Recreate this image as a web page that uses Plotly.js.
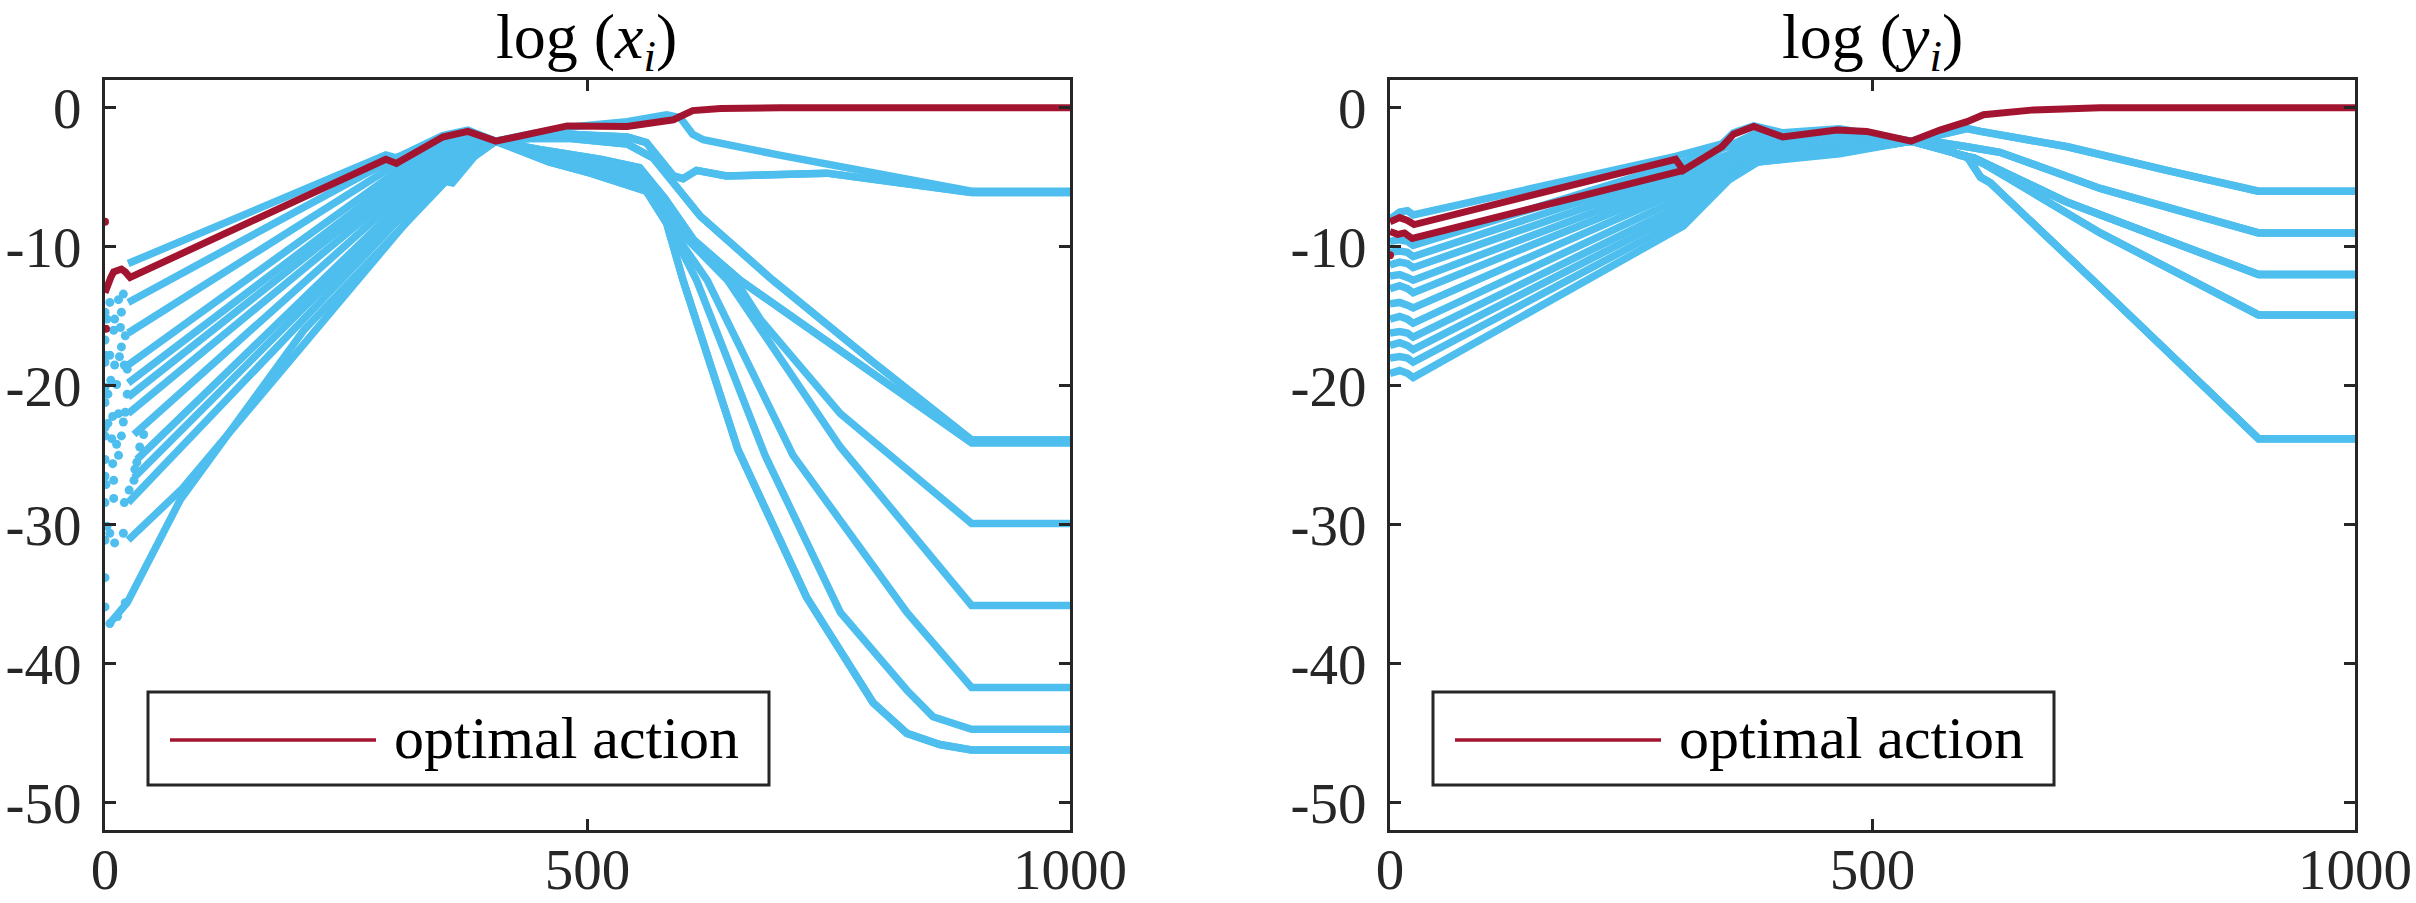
<!DOCTYPE html>
<html>
<head>
<meta charset="utf-8">
<script src="https://cdn.plot.ly/plotly-3.0.1.min.js"></script>
<style>
html, body { margin: 0; padding: 0; background: #fff; }
#plot { width: 2416px; height: 903px; }
</style>
</head>
<body>
<div id="plot"></div>
<script>
// ---------- left panel: log(x_i) ----------
// fan lines, from their start near t=24 up to the crossing near t=383
var fanL1x = [24, 291, 302, 350, 376];            var fanL1y = [-11.2, -3.4, -3.6, -2.0, -1.6];
var fanL2x = [24, 298, 350, 378];                 var fanL2y = [-14.0, -3.7, -2.3, -1.9];
var fanL3x = [24, 305, 350, 380];                 var fanL3y = [-16.2, -3.9, -2.7, -2.1];
var fanL4x = [24, 312, 352, 381];                 var fanL4y = [-18.5, -4.1, -3.0, -2.3];
var fanL5x = [24, 318, 352, 382];                 var fanL5y = [-19.8, -4.3, -3.3, -2.5];
var fanL6x = [24, 323, 353, 382];                 var fanL6y = [-20.8, -4.4, -3.6, -2.6];
var fanL7x = [24, 328, 353, 383];                 var fanL7y = [-22.0, -4.6, -3.9, -2.8];
var fanL8x = [30, 333, 354, 383];                 var fanL8y = [-23.5, -4.7, -4.2, -3.0];
var fanL9x = [33, 337, 355, 383];                 var fanL9y = [-25.3, -4.9, -4.5, -3.1];
var fanL10x = [30, 341, 356, 383];                var fanL10y = [-26.6, -5.0, -4.8, -3.2];
var fanL11x = [24, 345, 357, 383];                var fanL11y = [-28.4, -5.1, -5.1, -3.3];
var fanL12x = [24, 80, 349, 358, 383];            var fanL12y = [-31.1, -27.4, -5.2, -5.3, -3.4];
var fanL13x = [6, 23, 78, 206, 353, 360, 383];    var fanL13y = [-37.0, -35.6, -28.2, -16.0, -5.3, -5.4, -3.5];

// tails after the crossing at t=405
var tailBx = [405, 440, 480, 541, 582, 596, 609, 620, 699, 898, 1000];
var tailBy = [-2.4, -1.9, -1.4, -1.0, -0.5, -0.7, -1.9, -2.3, -3.4, -6.0, -6.0];
var tailCx = [405, 440, 480, 541, 561, 589, 599, 613, 644, 748, 898, 1000];
var tailCy = [-2.4, -2.0, -1.9, -2.1, -2.5, -4.9, -5.1, -4.5, -4.9, -4.7, -6.1, -6.1];
var tailDx = [405, 440, 480, 541, 568, 596, 617, 692, 796, 898, 1000];
var tailDy = [-2.4, -2.2, -2.2, -2.6, -3.6, -6.0, -7.8, -12.4, -18.3, -23.9, -23.9];
var tailEx = [405, 450, 513, 554, 580, 610, 658, 762, 898, 1000];
var tailEy = [-2.4, -3.0, -3.7, -4.3, -6.5, -9.5, -12.4, -17.4, -24.1, -24.1];
var tailFx = [405, 460, 503, 556, 585, 620, 655, 680, 762, 898, 1000];
var tailFy = [-2.4, -3.3, -4.0, -4.6, -7.5, -10.5, -12.6, -15.3, -22.0, -29.9, -29.9];
var tailGx = [405, 460, 503, 561, 590, 645, 762, 898, 1000];
var tailGy = [-2.4, -3.5, -4.3, -5.2, -8.5, -12.4, -24.4, -35.8, -35.8];
var tailHx = [405, 460, 503, 561, 590, 624, 713, 831, 898, 1000];
var tailHy = [-2.4, -3.7, -4.5, -5.6, -9.0, -12.4, -25.0, -36.3, -41.7, -41.7];
var tailIx = [405, 460, 503, 561, 588, 613, 684, 762, 831, 858, 898, 1000];
var tailIy = [-2.4, -3.8, -4.6, -5.8, -9.0, -12.4, -25.0, -36.3, -41.9, -43.8, -44.7, -44.7];
var tailJx = [405, 460, 503, 561, 582, 599, 656, 727, 796, 831, 865, 898, 1000];
var tailJy = [-2.4, -3.9, -4.7, -6.0, -8.3, -12.4, -24.6, -35.2, -42.8, -45.0, -45.8, -46.2, -46.2];

var leftTailOf = ['B', 'C', 'D', 'E', 'D', 'E', 'F', 'G', 'H', 'I', 'J', 'C', 'J'];

// scattered early samples
var dotsLx = [0, 2, 5, 10, 14, 17, 19, 0, 9, 16, 17, 21, 0, 5, 10, 15, 20, 23, 0, 6, 12, 23,
              3, 0, 8, 14, 19, 21, 0, 7, 12, 17, 36, 40, 0, 8, 14, 33, 0, 1, 9, 31, 30,
              9, 0, 20, 25, 2, 5, 0, 10, 19, 0, 0, 5, 13, 21, 0, 3, 0];
var dotsLy = [-14.7, -15.2, -14.0, -15.2, -13.8, -14.7, -13.4, -16.7, -16.0, -15.8, -17.2, -16.4,
              -17.8, -17.8, -18.5, -17.9, -18.5, -18.8, -20.1, -19.6, -19.9, -20.6,
              -22.7, -23.0, -22.2, -22.0, -22.6, -21.9, -23.6, -23.8, -24.2, -23.6, -24.4, -23.5,
              -25.3, -25.6, -25.0, -25.5, -26.5, -27.1, -26.8, -26.0, -26.8,
              -28.1, -28.4, -28.4, -27.5, -30.1, -30.6, -31.1, -31.3, -30.6,
              -33.8, -35.9, -37.1, -36.6, -35.6, -18.3, -20.6, -21.2];

var redLx = [0, 3, 6, 9, 17, 21, 26, 291, 302, 350, 376, 405, 479, 541, 589, 609, 638, 700, 1000];
var redLy = [-13.3, -12.6, -12.2, -11.8, -11.6, -11.8, -12.2, -3.7, -4.0, -2.1, -1.7, -2.4, -1.3, -1.35, -0.86, -0.2, -0.05, 0, 0];
var redDotsLx = [0, 1];
var redDotsLy = [-8.2, -15.9];

// ---------- right panel: log(y_i) ----------
var fanR1x = [0, 10, 18, 24, 296, 344, 356, 377, 407, 466];  var fanR1y = [-8.0, -7.5, -7.4, -7.7, -3.5, -2.6, -1.8, -1.3, -1.8, -1.5];
var fanR2x = [0, 10, 18, 24, 300, 350, 380, 410, 466];       var fanR2y = [-9.6, -9.5, -9.6, -9.9, -4.0, -2.8, -1.8, -2.0, -1.9];
var fanR3x = [0, 10, 18, 24, 300, 350, 381, 466];            var fanR3y = [-10.4, -10.3, -10.4, -10.7, -4.4, -3.4, -2.2, -2.1];
var fanR4x = [0, 10, 18, 24, 300, 352, 381, 466];            var fanR4y = [-11.3, -11.1, -11.2, -11.5, -4.8, -3.6, -2.6, -2.4];
var fanR5x = [0, 10, 18, 24, 300, 352, 381, 466];            var fanR5y = [-12.1, -12.0, -12.2, -12.4, -5.2, -3.9, -3.0, -2.6];
var fanR6x = [0, 10, 18, 24, 300, 352, 381, 466];            var fanR6y = [-13.0, -12.8, -13.0, -13.3, -5.6, -4.2, -3.2, -2.8];
var fanR7x = [0, 10, 18, 24, 301, 352, 381, 466];            var fanR7y = [-14.1, -14.0, -14.2, -14.4, -6.0, -4.5, -3.4, -2.9];
var fanR8x = [0, 10, 18, 24, 302, 352, 381, 466];            var fanR8y = [-15.2, -15.0, -15.2, -15.5, -6.5, -4.8, -3.6, -3.0];
var fanR9x = [0, 10, 18, 24, 303, 352, 381, 466];            var fanR9y = [-16.2, -16.1, -16.2, -16.5, -7.0, -5.0, -3.7, -3.1];
var fanR10x = [0, 10, 18, 24, 303, 351, 381, 466];           var fanR10y = [-17.1, -16.9, -17.1, -17.4, -7.5, -5.1, -3.8, -3.2];
var fanR11x = [0, 10, 18, 24, 304, 351, 381, 466];           var fanR11y = [-18.0, -17.9, -18.0, -18.3, -8.0, -5.1, -3.9, -3.2];
var fanR12x = [0, 10, 18, 24, 304, 351, 381, 466];           var fanR12y = [-19.1, -18.9, -19.1, -19.4, -8.5, -5.2, -3.9, -3.3];

var tailR1x = [540, 567, 598, 612, 702, 805, 900, 1000];       var tailR1y = [-2.4, -2.0, -1.5, -1.7, -2.8, -4.5, -6.0, -6.0];
var tailR2x = [540, 570, 598, 632, 736, 900, 1000];            var tailR2y = [-2.4, -2.5, -2.8, -3.2, -5.8, -9.0, -9.0];
var tailR3x = [540, 570, 590, 605, 702, 900, 1000];            var tailR3y = [-2.4, -2.8, -3.4, -3.6, -6.8, -12.0, -12.0];
var tailR4x = [540, 575, 598, 615, 736, 900, 1000];            var tailR4y = [-2.4, -3.0, -3.6, -4.0, -9.0, -14.9, -14.9];
var tailR5x = [540, 575, 598, 612, 622, 736, 900, 1000];       var tailR5y = [-2.4, -3.0, -3.5, -5.0, -5.4, -12.9, -23.8, -23.8];

var rightTailOf = [1, 1, 2, 2, 3, 3, 3, 4, 4, 5, 5, 5];

var redR1x = [0, 10, 18, 25, 296, 304, 344, 356, 377, 407, 463, 494, 540, 570, 598, 615, 667, 736, 1000];
var redR1y = [-8.2, -7.9, -8.1, -8.4, -3.7, -4.5, -2.8, -1.9, -1.35, -2.1, -1.6, -1.7, -2.4, -1.6, -1.0, -0.5, -0.15, 0, 0];
var redR2x = [0, 8, 15, 23, 304];
var redR2y = [-8.9, -9.1, -9.0, -9.4, -4.5];
var redDotsRx = [0];
var redDotsRy = [-10.6];

var yTickVals = [0, -10, -20, -30, -40, -50];
var yTickText = ['0', '-10', '-20', '-30', '-40', '-50'];
var xTickVals = [0, 500, 1000];
var xTickText = ['0', '500', '1000'];
var legendText = 'optimal action';
var titles = ['log (<i>x</i><sub><i>i</i></sub>)', 'log (<i>y</i><sub><i>i</i></sub>)'];

var BLUE = '#4DBEEE', RED = '#A2142F', AX = '#262626';
var FONT = 'Liberation Serif, Times New Roman, serif';

var leftFans = [[fanL1x, fanL1y], [fanL2x, fanL2y], [fanL3x, fanL3y], [fanL4x, fanL4y], [fanL5x, fanL5y],
                [fanL6x, fanL6y], [fanL7x, fanL7y], [fanL8x, fanL8y], [fanL9x, fanL9y], [fanL10x, fanL10y],
                [fanL11x, fanL11y], [fanL12x, fanL12y], [fanL13x, fanL13y]];
var leftTails = { B: [tailBx, tailBy], C: [tailCx, tailCy], D: [tailDx, tailDy], E: [tailEx, tailEy],
                  F: [tailFx, tailFy], G: [tailGx, tailGy], H: [tailHx, tailHy], I: [tailIx, tailIy], J: [tailJx, tailJy] };
var rightFans = [[fanR1x, fanR1y], [fanR2x, fanR2y], [fanR3x, fanR3y], [fanR4x, fanR4y], [fanR5x, fanR5y],
                 [fanR6x, fanR6y], [fanR7x, fanR7y], [fanR8x, fanR8y], [fanR9x, fanR9y], [fanR10x, fanR10y],
                 [fanR11x, fanR11y], [fanR12x, fanR12y]];
var rightTails = { 1: [tailR1x, tailR1y], 2: [tailR2x, tailR2y], 3: [tailR3x, tailR3y], 4: [tailR4x, tailR4y], 5: [tailR5x, tailR5y] };

function line(xs, ys, color, width, ax) {
    return { x: xs, y: ys, type: 'scatter', mode: 'lines', showlegend: false, hoverinfo: 'skip',
             line: { color: color, width: width }, xaxis: ax[0], yaxis: ax[1] };
}
function dots(xs, ys, color, size, ax) {
    return { x: xs, y: ys, type: 'scatter', mode: 'markers', showlegend: false, hoverinfo: 'skip',
             marker: { color: color, size: size }, xaxis: ax[0], yaxis: ax[1] };
}

var data = [];
var L = ['x', 'y'], R = ['x2', 'y2'];

data.push(dots(dotsLx, dotsLy, BLUE, 9, L));
leftFans.forEach(function (f, i) {
    var t = leftTails[leftTailOf[i]];
    data.push(line(f[0].concat(t[0]), f[1].concat(t[1]), BLUE, 7.5, L));
});
rightFans.forEach(function (f, i) {
    var t = rightTails[rightTailOf[i]];
    data.push(line(f[0].concat(t[0]), f[1].concat(t[1]), BLUE, 7.5, R));
});

data.push(line(redLx, redLy, RED, 7, L));
data.push(dots(redDotsLx, redDotsLy, RED, 8, L));
data.push(line(redR2x, redR2y, RED, 7, R));
data.push(line(redR1x, redR1y, RED, 7, R));
data.push(dots(redDotsRx, redDotsRy, RED, 8, R));

var W = 2416, H = 903;

function xAxis(dom, anchor) {
    return { domain: dom, anchor: anchor, range: [0, 1000], tickmode: 'array', tickvals: xTickVals, ticktext: xTickText,
             ticks: 'inside', ticklen: 11, tickwidth: 3, tickcolor: AX, showline: true, linewidth: 3, linecolor: AX,
             mirror: 'ticks', showgrid: false, zeroline: false, ticklabelstandoff: -12,
             tickfont: { family: FONT, size: 57, color: AX } };
}
function yAxis(anchor) {
    return { domain: [73 / H, 823 / H], anchor: anchor, range: [-51.95, 2.0], tickmode: 'array', tickvals: yTickVals, ticktext: yTickText,
             ticks: 'inside', ticklen: 11, tickwidth: 3, tickcolor: AX, showline: true, linewidth: 3, linecolor: AX,
             mirror: 'ticks', showgrid: false, zeroline: false, ticklabelstandoff: 9,
             tickfont: { family: FONT, size: 57, color: AX } };
}

// legend boxes drawn as shapes so their size and padding follow the original
function legendShapes(dx) {
    return [
        { type: 'rect', xref: 'paper', yref: 'paper', x0: (148 + dx) / W, x1: (769 + dx) / W, y0: 1 - 785 / H, y1: 1 - 692 / H,
          line: { color: AX, width: 3 }, fillcolor: '#ffffff', layer: 'above' },
        { type: 'line', xref: 'paper', yref: 'paper', x0: (170 + dx) / W, x1: (376 + dx) / W, y0: 1 - 740 / H, y1: 1 - 740 / H,
          line: { color: RED, width: 3.5 }, layer: 'above' }
    ];
}
function legendLabel(dx) {
    return { text: legendText, x: (392 + dx) / W, y: 1 - 738 / H, xref: 'paper', yref: 'paper',
             xanchor: 'left', yanchor: 'middle', showarrow: false, font: { family: FONT, size: 60, color: '#000' } };
}
function title(i, cx) {
    return { text: titles[i], x: cx / W, y: 1 - 41 / H, xref: 'paper', yref: 'paper',
             xanchor: 'center', yanchor: 'middle', showarrow: false, font: { family: FONT, size: 64, color: '#000' } };
}

var layout = {
    width: W, height: H,
    margin: { l: 0, r: 0, t: 0, b: 0 },
    paper_bgcolor: '#ffffff', plot_bgcolor: '#ffffff',
    showlegend: false,
    xaxis: xAxis([105 / W, 1070 / W], 'y'),
    yaxis: yAxis('x'),
    xaxis2: xAxis([1390 / W, 2355 / W], 'y2'),
    yaxis2: yAxis('x2'),
    shapes: legendShapes(0).concat(legendShapes(1285)),
    annotations: [title(0, 586), title(1, 1872), legendLabel(0), legendLabel(1285)]
};

Plotly.newPlot('plot', data, layout, { displayModeBar: false, staticPlot: true });
</script>
</body>
</html>
